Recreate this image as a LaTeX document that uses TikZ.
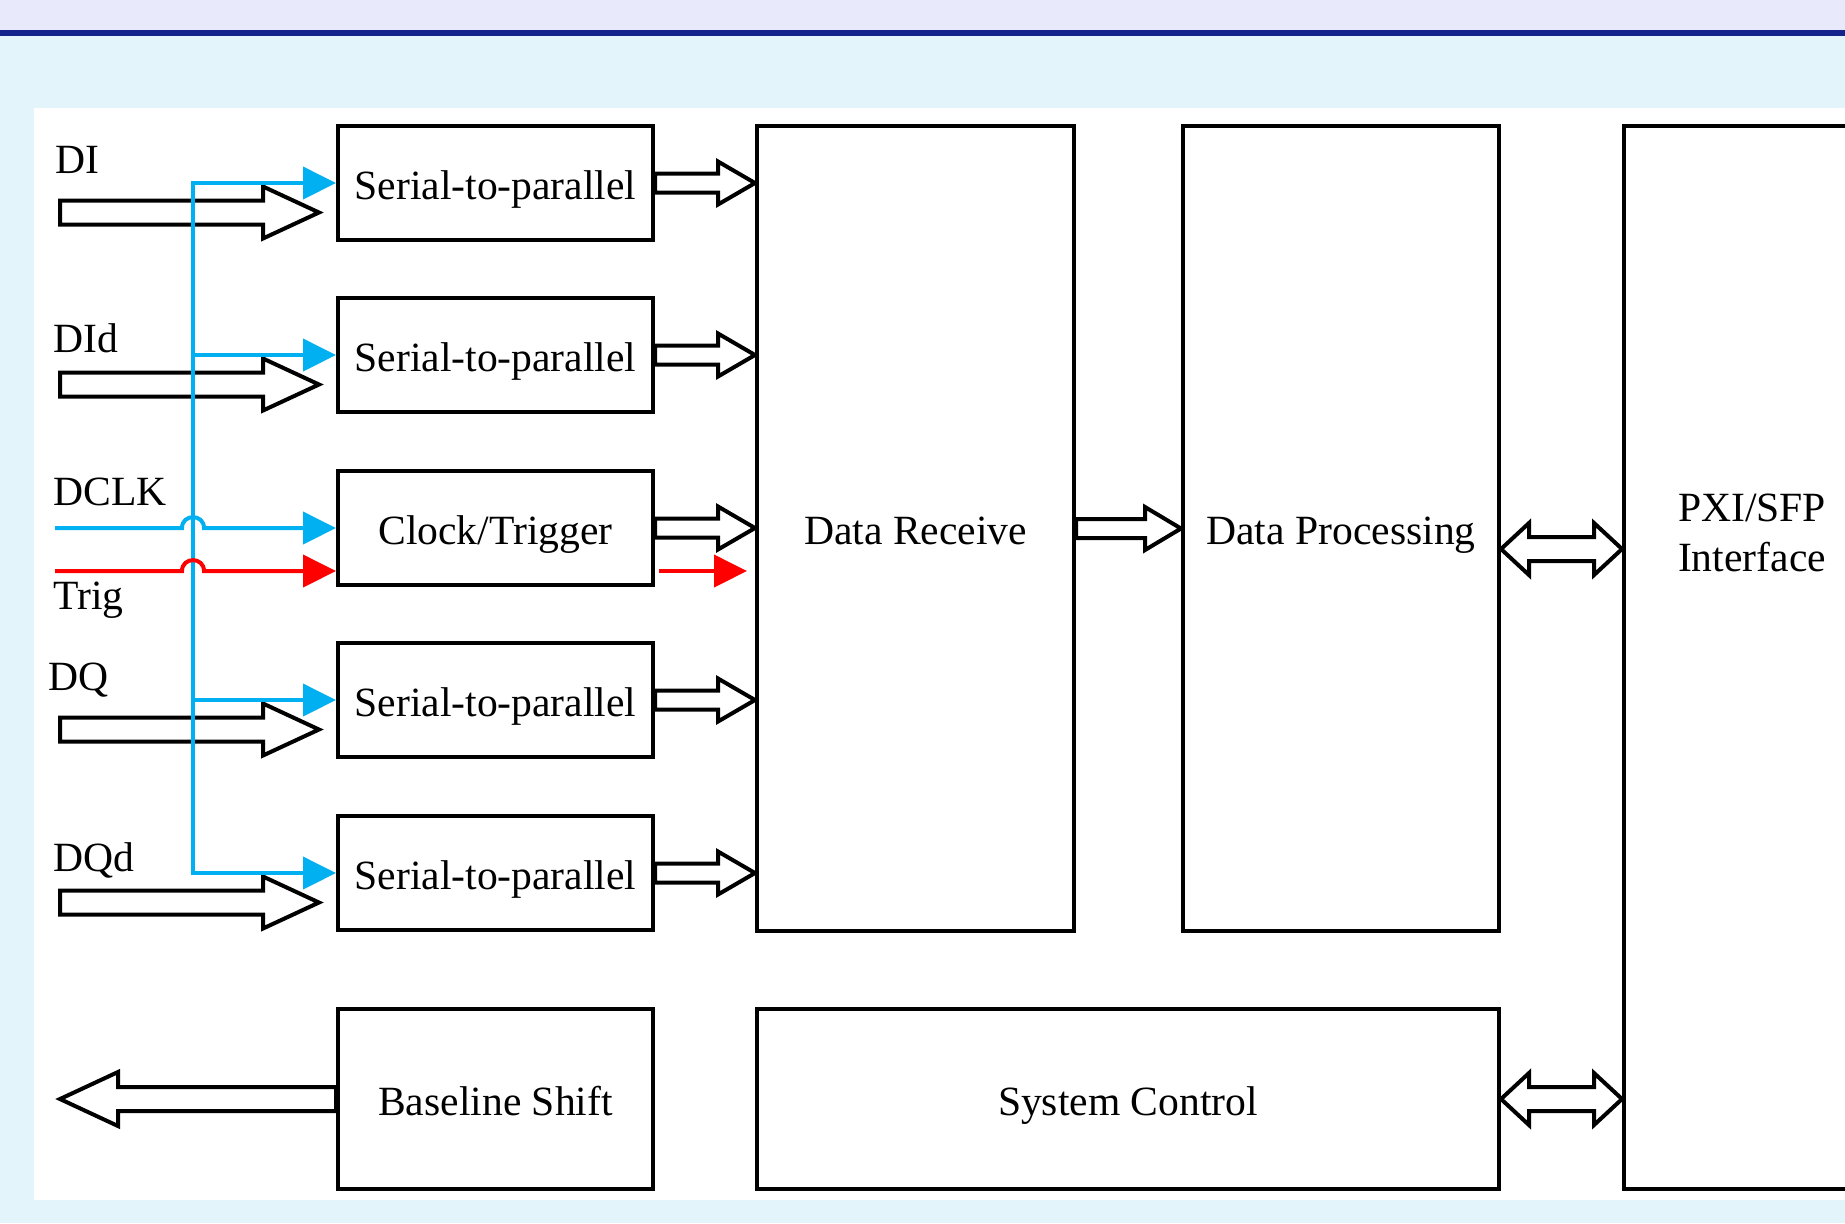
\documentclass[tikz,border=0pt]{standalone}
\usepackage{fontspec}
\setmainfont{Liberation Serif}
\usetikzlibrary{arrows.meta,calc}
\definecolor{band}{RGB}{232,234,252}
\definecolor{navy}{RGB}{20,36,140}
\definecolor{bgblue}{RGB}{228,244,251}
\definecolor{cyanl}{RGB}{0,176,240}
\definecolor{redl}{RGB}{255,0,0}
\newcommand\hol[5]{\draw[hollow] ($(#1)+(0,-#3)$) -- ($(#2)+({-1*(#5)},-#3)$) -- ($(#2)+({-1*(#5)},-#4)$) -- (#2) -- ($(#2)+({-1*(#5)},#4)$) -- ($(#2)+({-1*(#5)},#3)$) -- ($(#1)+(0,#3)$) -- cycle;}
\newcommand\dbl[5]{\draw[hollow] (#1) -- ($(#1)+(#5,-#4)$) -- ($(#1)+(#5,-#3)$) -- ($(#2)+(-#5,-#3)$) -- ($(#2)+(-#5,-#4)$) -- (#2) -- ($(#2)+(-#5,#4)$) -- ($(#2)+(-#5,#3)$) -- ($(#1)+(#5,#3)$) -- ($(#1)+(#5,#4)$) -- cycle;}
\begin{document}
\begin{tikzpicture}[x=0.5pt,y=-0.5pt,
  txt/.style={font=\fontsize{20.8}{25}\selectfont},
  box/.style={txt,draw,line width=2pt,fill=white,inner sep=0pt,text height=16pt,text depth=0pt},
  lbl/.style={txt,inner sep=0pt,anchor=base west},
  hollow/.style={draw,line width=2pt,fill=white,line join=miter},
  bus/.style={cyanl,line width=2pt,line join=miter},
  trig/.style={redl,line width=2pt},
  tri/.style={-{Triangle[length=16.5pt,width=16pt]}}
]
\useasboundingbox (0,0) rectangle (1845,1223);
\clip (0,0) rectangle (1845,1223);
\fill[bgblue] (0,0) rectangle (1845,1223);
\fill[band] (0,0) rectangle (1845,30);
\fill[navy] (0,30) rectangle (1845,36);
\fill[white] (34,108) rectangle (1845,1200);

% blocks
\node[box,minimum width=157.5pt,minimum height=57pt] (s1) at (495.5,183) {Serial-to-parallel};
\node[box,minimum width=157.5pt,minimum height=57pt] (s2) at (495.5,355) {Serial-to-parallel};
\node[box,minimum width=157.5pt,minimum height=57pt] (s3) at (495.5,528) {Clock/Trigger};
\node[box,minimum width=157.5pt,minimum height=57pt] (s4) at (495.5,700) {Serial-to-parallel};
\node[box,minimum width=157.5pt,minimum height=57pt] (s5) at (495.5,873) {Serial-to-parallel};
\node[box,minimum width=157.5pt,minimum height=90pt] (bs) at (495.5,1099) {Baseline Shift};
\node[box,minimum width=158.5pt,minimum height=402.5pt] (dr) at (915.5,528.5) {Data Receive};
\node[box,minimum width=158pt,minimum height=402.5pt] (dp) at (1341,528.5) {Data Processing};
\node[box,minimum width=371pt,minimum height=90pt] (sc) at (1128,1099) {System Control};
\node[box,minimum width=129pt,minimum height=531.5pt] (pxi) at (1753,657.5) {};
\node[txt,inner sep=0pt,align=center,anchor=north] (pxitxt) at (1752,494) {PXI/SFP\\Interface};

% labels
\node[lbl] (lDI) at (55,173) {DI};
\node[lbl] (lDId) at (53,352) {DId};
\node[lbl] (lDCLK) at (53,505) {DCLK};
\node[lbl] (lTrig) at (53,609) {Trig};
\node[lbl] (lDQ) at (48,690) {DQ};
\node[lbl] (lDQd) at (53,871) {DQd};

% input hollow arrows
\foreach \s in {s1,s2,s4,s5}{
  \coordinate (\s t) at ($(\s.west)+(-276,29.5)$);
  \coordinate (\s h) at ($(\s.west)+(-17,29.5)$);
  \hol{\s t}{\s h}{12}{26}{56}
}

% output hollow arrows
\foreach \s in {s1,s2,s3,s4,s5}{
  \coordinate (\s o) at (\s.east -| dr.west);
  \hol{\s.east}{\s o}{9.5}{21.5}{37}
}
\hol{dr.east}{dp.west}{9.5}{21.5}{36}
\coordinate (bst) at ($(bs.west)+(-276,0)$);
\hol{bs.west}{bst}{12}{27}{-58}

% double arrows
\coordinate (dpx) at ($(dp.east)+(0,20.5)$);
\coordinate (pxd) at (pxi.west |- dpx);
\dbl{dpx}{pxd}{12}{26}{28}
\coordinate (pxs) at (pxi.west |- sc.east);
\dbl{sc.east}{pxs}{12}{26}{28}

% blue bus
\foreach \s in {s1,s2,s3,s4,s5}{
  \coordinate (\s b) at ($(\s.west)+(-143,0)$);
}
\draw[bus,tri] (s2b) -- (s1b) -- (s1.west);
\draw[bus] (s2b) -- (s4b);
\draw[bus,tri] (s4b) -- (s5b) -- (s5.west);
\draw[bus,tri] (s2b) -- (s2.west);
\draw[bus,tri] (s4b) -- (s4.west);

% DCLK with hop
\coordinate (dclk) at ($(s3.west)+(-281,0)$);
\draw[bus,tri] (dclk) -- ($(s3b)+(-11,0)$) .. controls ($(s3b)+(-11,-14.5)$) and ($(s3b)+(11,-14.5)$) .. ($(s3b)+(11,0)$) -- (s3.west);

% Trig with hop
\coordinate (trg) at ($(dclk)+(0,43)$);
\coordinate (trgb) at ($(s3b)+(0,43)$);
\coordinate (trge) at ($(s3.west)+(0,43)$);
\draw[trig,tri] (trg) -- ($(trgb)+(-11,0)$) .. controls ($(trgb)+(-11,-14.5)$) and ($(trgb)+(11,-14.5)$) .. ($(trgb)+(11,0)$) -- (trge);
\coordinate (r1) at ($(s3.east)+(4,43)$);
\path (r1 -| dr.west) ++(-8,0) coordinate (r2);
\draw[trig,tri] (r1) -- (r2);
\end{tikzpicture}
\end{document}
